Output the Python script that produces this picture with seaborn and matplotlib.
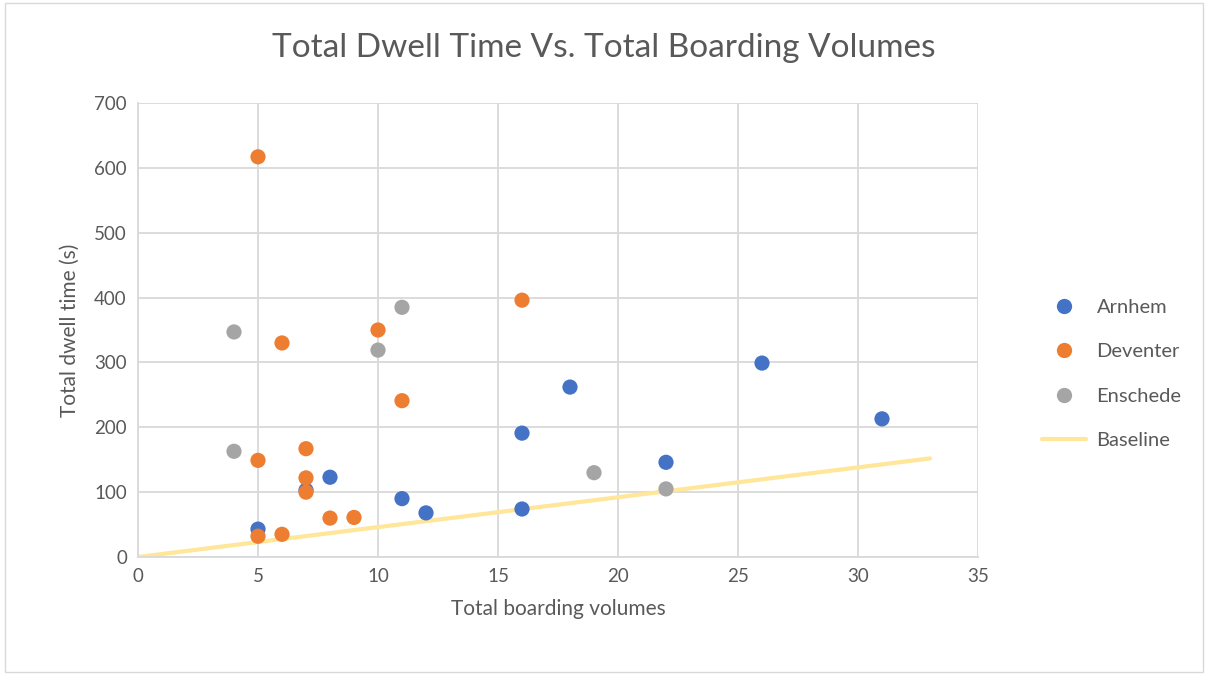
import matplotlib
matplotlib.use("Agg")
import matplotlib.pyplot as plt
import seaborn as sns
import pandas as pd
from matplotlib.lines import Line2D

# ---- data ----
arnhem_x = [5, 7, 8, 11, 12, 16, 16, 18, 22, 26, 31]
arnhem_y = [43, 103, 123, 90, 68, 74, 191, 262, 146, 299, 213]

deventer_x = [5, 5, 5, 6, 6, 7, 7, 7, 8, 9, 10, 11, 16]
deventer_y = [617, 149, 32, 330, 35, 167, 122, 100, 60, 61, 350, 241, 396]

enschede_x = [4, 4, 10, 11, 19, 22]
enschede_y = [347, 163, 319, 385, 130, 105]

baseline_x = [0, 33]
baseline_y = [0, 152]

series_names = ["Arnhem", "Deventer", "Enschede"]
colors = {"Arnhem": "#4472C4", "Deventer": "#ED7D31", "Enschede": "#A5A5A5"}
baseline_color = "#FFE699"

title = "Total Dwell Time Vs. Total Boarding Volumes"
xlabel = "Total boarding volumes"
ylabel = "Total dwell time (s)"

# ---- build frames ----
df = pd.concat([
    pd.DataFrame({"x": arnhem_x, "y": arnhem_y, "city": "Arnhem"}),
    pd.DataFrame({"x": deventer_x, "y": deventer_y, "city": "Deventer"}),
    pd.DataFrame({"x": enschede_x, "y": enschede_y, "city": "Enschede"}),
], ignore_index=True)
base = pd.DataFrame({"x": baseline_x, "y": baseline_y})

sns.set_theme(style="white")
plt.rcParams["font.family"] = ["Lato", "DejaVu Sans"]
text_color = "#595959"

fig = plt.figure(figsize=(12.08, 6.75), dpi=100)
ax = fig.add_axes([138/1208, 1-557/675, (978-138)/1208, (557-103)/675])

sns.lineplot(data=base, x="x", y="y", ax=ax, color=baseline_color, lw=3,
             zorder=2, legend=False)
sns.scatterplot(data=df, x="x", y="y", hue="city", hue_order=series_names,
                palette=colors, s=120, edgecolor="none", ax=ax, zorder=3,
                legend=False)

ax.set_xlim(0, 35)
ax.set_ylim(0, 700)
ax.set_xticks(range(0, 36, 5))
ax.set_yticks(range(0, 701, 100))
ax.grid(True, color="#D9D9D9", lw=1.3, zorder=0)
ax.set_axisbelow(True)
for s in ["top", "right"]:
    ax.spines[s].set_visible(False)
for s in ["left", "bottom"]:
    ax.spines[s].set_color("#D9D9D9")
    ax.spines[s].set_linewidth(1.3)
ax.tick_params(axis="both", length=0, labelsize=13.5, colors=text_color, pad=8)

ax.set_xlabel(xlabel, fontsize=15, color=text_color, labelpad=10)
ax.set_ylabel(ylabel, fontsize=15, color=text_color, labelpad=10)
fig.text(0.5, 1-48/675, title, ha="center", va="center", fontsize=24,
         color=text_color, fontweight="normal")

handles = [Line2D([], [], marker="o", ls="none", markersize=11,
                  markerfacecolor=colors[n], markeredgecolor="none") for n in series_names]
handles.append(Line2D([], [], color=baseline_color, lw=3))
labels = series_names + ["Baseline"]
fig.legend(handles, labels, loc="center left", bbox_to_anchor=(1024/1208, 1-374/675),
           frameon=False, fontsize=14.5, labelcolor=text_color, handlelength=2.2,
           handletextpad=0.5, labelspacing=1.35)

# chart border
fig.patches.append(plt.Rectangle((0.004, 0.004), 0.992, 0.992, transform=fig.transFigure,
                                 fill=False, edgecolor="#D9D9D9", lw=1))

fig.savefig("out.png", dpi=100)
